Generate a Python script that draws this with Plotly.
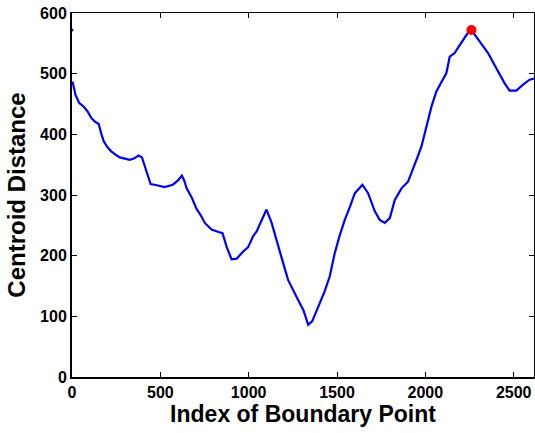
import plotly.graph_objects as go

# Centroid distance sampled along the object boundary
boundary_index = [
    3, 20, 40, 68, 90, 109, 130, 151, 165, 179, 200, 222, 245, 270, 300,
    326, 350, 377, 396, 420, 445, 480, 524, 571, 600, 622, 635, 649, 679,
    705, 730, 752, 790, 830, 852, 875, 903, 932, 969, 997, 1025, 1045, 1075,
    1101, 1130, 1158, 1190, 1223, 1250, 1280, 1310, 1337, 1360, 1393, 1430,
    1459, 1487, 1515, 1544, 1575, 1601, 1644, 1676, 1714, 1742, 1770, 1799,
    1827, 1865, 1902, 1930, 1955, 1978, 2006, 2035, 2063, 2100, 2119, 2138,
    2166, 2190, 2213, 2240, 2261, 2285, 2308, 2355, 2390, 2421, 2449, 2477,
    2515, 2553, 2590, 2615,
]
centroid_distance = [
    487, 465, 452, 445, 437, 427, 421, 417, 402, 389, 379, 372, 367, 362, 360,
    358, 360, 365, 362, 340, 318, 316, 313, 317, 324, 332, 324, 311, 295,
    277, 266, 254, 243, 239, 237, 215, 194, 195, 207, 214, 232, 240, 259,
    276, 254, 227, 193, 160, 143, 127, 110, 86, 92, 116, 141,
    166, 204, 233, 259, 282, 303, 317, 303, 273, 259, 254, 262,
    292, 311, 322, 342, 362, 380, 413, 446, 471, 490, 501, 528,
    534, 545, 556, 567, 572, 562, 553, 534, 515, 498, 484, 472,
    472, 482, 490, 492,
]

# Starting sample of the boundary (index 0)
start_index = [0]
start_distance = [572]

# Farthest boundary point
peak_index = [2261]
peak_distance = [572]

x_ticks = [0, 500, 1000, 1500, 2000, 2500]
y_ticks = [0, 100, 200, 300, 400, 500, 600]
x_range = [0, 2615]
y_range = [0, 600]

font_family = "Arial, Liberation Sans, Helvetica, sans-serif"

fig = go.Figure()
fig.add_trace(go.Scatter(
    x=boundary_index, y=centroid_distance, mode="lines",
    line=dict(color="#0000FF", width=2.2),
    showlegend=False, cliponaxis=False,
))
fig.add_trace(go.Scatter(
    x=start_index, y=start_distance, mode="markers",
    marker=dict(color="#0000FF", size=3, line=dict(width=0)),
    showlegend=False, cliponaxis=False,
))
fig.add_trace(go.Scatter(
    x=peak_index, y=peak_distance, mode="markers",
    marker=dict(color="#FF0000", size=10, line=dict(width=0)),
    showlegend=False,
))

fig.update_layout(
    width=535, height=433,
    margin=dict(l=72, r=1, t=13, b=56),
    paper_bgcolor="white", plot_bgcolor="white",
    font=dict(family=font_family, color="black"),
    xaxis=dict(
        range=x_range, tickvals=x_ticks, ticks="inside", ticklen=5,
        tickcolor="black", showline=True, linecolor="black", linewidth=2,
        showgrid=False, zeroline=False, automargin=False,
        tickfont=dict(size=16, weight="bold"),
        title=dict(text="Index of Boundary Point",
                   font=dict(size=23, weight="bold"), standoff=6),
    ),
    yaxis=dict(
        range=y_range, tickvals=y_ticks, ticks="inside", ticklen=5,
        tickcolor="black", showline=True, linecolor="black", linewidth=2,
        showgrid=False, zeroline=False, automargin=False,
        tickfont=dict(size=16, weight="bold"),
        title=dict(text="Centroid Distance",
                   font=dict(size=24, weight="bold"), standoff=8),
    ),
    xaxis2=dict(
        range=x_range, tickvals=x_ticks, ticks="inside", ticklen=5,
        tickcolor="black", showline=True, linecolor="black", linewidth=1,
        showgrid=False, zeroline=False, showticklabels=False,
        overlaying="x", side="top", anchor="y", matches="x",
    ),
    yaxis2=dict(
        range=y_range, tickvals=y_ticks, ticks="inside", ticklen=5,
        tickcolor="black", showline=True, linecolor="black", linewidth=1,
        showgrid=False, zeroline=False, showticklabels=False,
        overlaying="y", side="right", anchor="x", matches="y",
    ),
)

# Invisible trace so the mirrored box axes are rendered
fig.add_trace(go.Scatter(x=[None], y=[None], xaxis="x2", yaxis="y2",
                         showlegend=False, hoverinfo="skip"))

fig.write_html("out.html")
